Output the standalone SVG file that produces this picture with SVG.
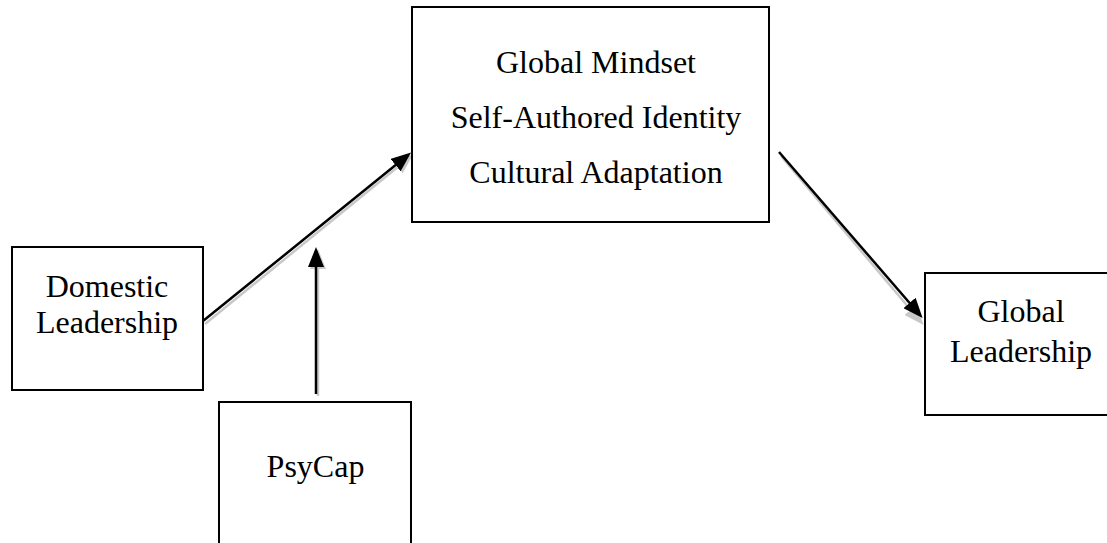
<svg xmlns="http://www.w3.org/2000/svg" width="1107" height="543" viewBox="0 0 1107 543">
<defs>
<style>
.box{fill:#fff;stroke:#000;stroke-width:2}
.lbl{font-family:"Liberation Serif","Times New Roman",serif;font-size:32px;fill:#000;text-anchor:middle}
.edge{stroke:#000;stroke-width:2.5;fill:none;marker-end:url(#ah)}
.shadow{stroke:#c8c8c8;stroke-width:2.5;fill:none;marker-end:url(#ahs)}
</style>
<marker id="ah" markerUnits="userSpaceOnUse" markerWidth="20" markerHeight="16" refX="16" refY="8" orient="auto" viewBox="0 0 20 16">
<path d="M0,0 L20,8 L0,16 z" fill="#000"/>
</marker>
<marker id="ahs" markerUnits="userSpaceOnUse" markerWidth="20" markerHeight="16" refX="16" refY="8" orient="auto" viewBox="0 0 20 16">
<path d="M0,0 L20,8 L0,16 z" fill="#c8c8c8"/>
</marker>
</defs>
<rect width="1107" height="543" fill="#fff"/>
<g id="connectors">
<line class="shadow" x1="205" y1="324" x2="410" y2="157"/>
<line class="shadow" x1="318" y1="396" x2="318" y2="253"/>
<line class="shadow" x1="781" y1="156" x2="921" y2="322"/>
<line class="edge" x1="203" y1="321" x2="408" y2="155"/>
<line class="edge" x1="316" y1="394" x2="316" y2="251"/>
<line class="edge" x1="779" y1="152" x2="920" y2="315"/>
</g>
<g id="node-mediators">
<rect class="box" x="412" y="7" width="357" height="215"/>
<text class="lbl" x="596" y="73">Global Mindset</text>
<text class="lbl" x="596" y="128">Self-Authored Identity</text>
<text class="lbl" x="596" y="183">Cultural Adaptation</text>
</g>
<g id="node-domestic">
<rect class="box" x="12" y="247" width="191" height="143"/>
<text class="lbl" x="107" y="297">Domestic</text>
<text class="lbl" x="107" y="333">Leadership</text>
</g>
<g id="node-psycap">
<rect class="box" x="219" y="402" width="192" height="160"/>
<text class="lbl" x="315.5" y="477">PsyCap</text>
</g>
<g id="node-global">
<rect class="box" x="925" y="273" width="192" height="142"/>
<text class="lbl" x="1021" y="322">Global</text>
<text class="lbl" x="1021" y="362">Leadership</text>
</g>
</svg>
